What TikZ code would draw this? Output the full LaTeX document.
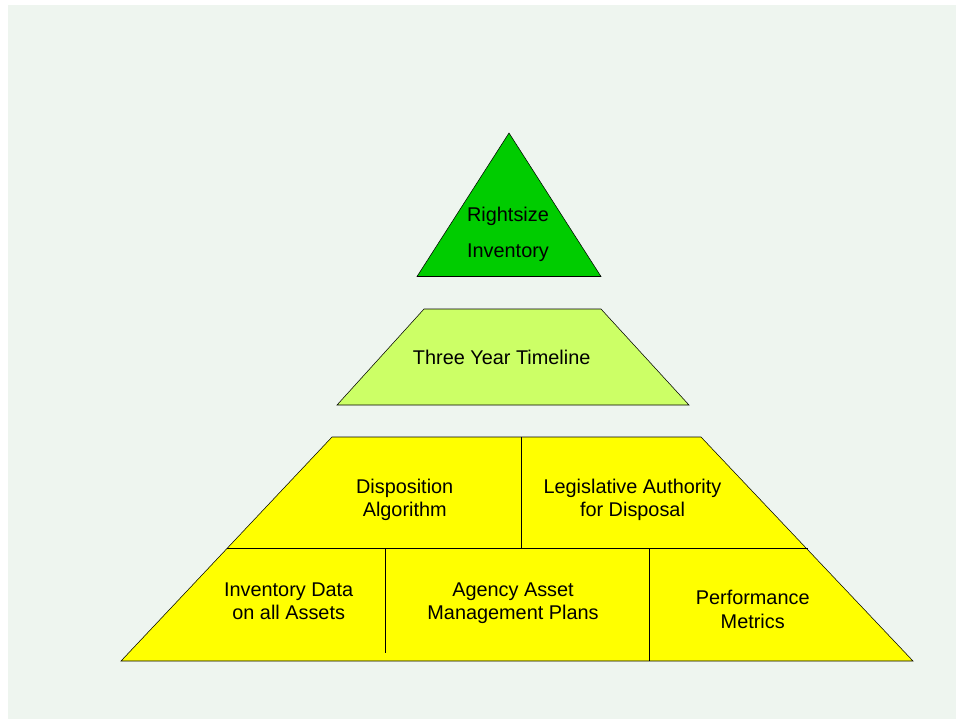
\documentclass[tikz,border=0pt]{standalone}
\usepackage{fontspec}
\setmainfont{Liberation Sans}
\definecolor{bggreen}{RGB}{238,245,239}
\definecolor{topgreen}{RGB}{0,204,0}
\definecolor{midgreen}{RGB}{204,255,102}
\definecolor{baseyellow}{RGB}{255,255,0}

\begin{document}
\begin{tikzpicture}[x=0.75pt,y=-0.75pt,
  tiertext/.style={align=center,inner sep=0pt,font=\fontsize{14.9}{17.5}\selectfont}]

\useasboundingbox (0,0) rectangle (956,719);
\fill [bggreen] (8,5) rectangle (956,719);

% top of the pyramid
\draw [fill=topgreen] (509,133) -- (417,276.5) -- (601,276.5) -- cycle ;
% middle tier
\draw [fill=midgreen] (424,309) -- (601,309) -- (689,405) -- (337,405) -- cycle ;
% base tier
\draw [fill=baseyellow] (121,661) -- (332,437) -- (701,437) -- (913,661) -- cycle ;
\draw (226.5,548.5) -- (807.5,548.5) ;
\draw (521,437) -- (521,548.5) ;
\draw (385,548.5) -- (385,653) ;
\draw (649,548.5) -- (649,661) ;

\node [tiertext] (rightsize) at (508,234) {Rightsize\\[9.5pt]Inventory};
\node [tiertext] (timeline) at (501.7,357) {Three Year Timeline};
\node [tiertext] (algorithm) at (404.7,499.8) {Disposition\\Algorithm};
\node [tiertext] (authority) at (632.5,499.7) {Legislative Authority\\for Disposal};
\node [tiertext] (inventory) at (288.7,601.2) {Inventory Data\\on all Assets};
\node [tiertext] (plans) at (513,603.3) {Agency Asset\\Management Plans};
\node [tiertext] (metrics) at (752.7,609.5) {Performance\\Metrics};
\end{tikzpicture}
\end{document}
